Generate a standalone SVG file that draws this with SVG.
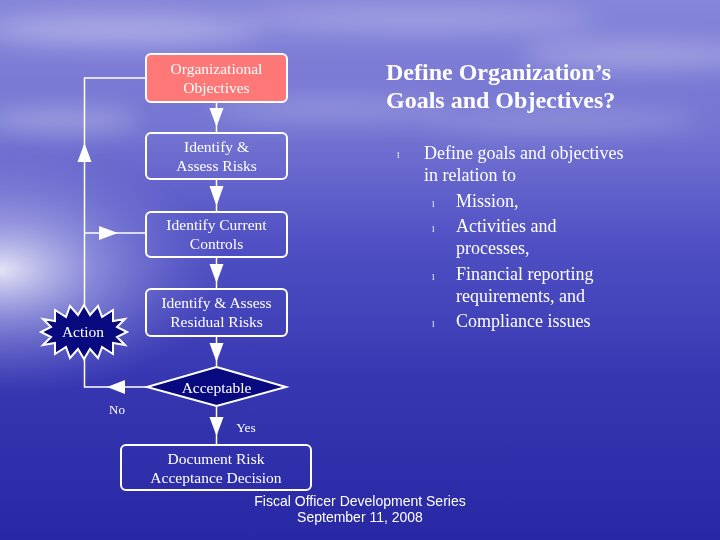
<svg xmlns="http://www.w3.org/2000/svg" width="720" height="540" viewBox="0 0 720 540">
<defs>
<linearGradient id="sky" x1="0" y1="0" x2="0" y2="1">
<stop offset="0" stop-color="#8585da"/>
<stop offset="0.25" stop-color="#7373d2"/>
<stop offset="0.45" stop-color="#5050c4"/>
<stop offset="0.7" stop-color="#3737b2"/>
<stop offset="1" stop-color="#2828a4"/>
</linearGradient>
<radialGradient id="glow" cx="0" cy="270" r="230" gradientUnits="userSpaceOnUse" gradientTransform="translate(0 270) scale(1 0.55) translate(0 -270)">
<stop offset="0" stop-color="#ffffff" stop-opacity="0.85"/>
<stop offset="0.4" stop-color="#d8d8f8" stop-opacity="0.45"/>
<stop offset="1" stop-color="#9090e0" stop-opacity="0"/>
</radialGradient>
<filter id="blur" x="-20%" y="-50%" width="140%" height="200%"><feGaussianBlur stdDeviation="12"/></filter>
<style>
.box{fill:none;stroke:#fff;stroke-width:2}
.pink{fill:#ff7878;stroke:#fff;stroke-width:2}
.dk{fill:#0a0a80;stroke:#fff;stroke-width:2}
.ln{stroke:#fff;stroke-width:1.5;fill:none}
.ah{fill:#fff}
.t{font-family:"Liberation Serif","Times New Roman",serif;font-size:15.5px;fill:#fff;text-anchor:middle}
.b{font-family:"Liberation Serif","Times New Roman",serif;font-size:18px;fill:#fff}
.bu{font-family:"Liberation Serif","Times New Roman",serif;font-size:9px;fill:#fff}
.h{font-family:"Liberation Serif","Times New Roman",serif;font-size:24px;font-weight:bold;fill:#fff}
.f{font-family:"Liberation Sans",Arial,sans-serif;font-size:14px;fill:#fff;text-anchor:middle}
</style>
</defs>
<g id="background">
<rect width="720" height="540" fill="url(#sky)"/>
<g filter="url(#blur)" fill="#ffffff">
<ellipse cx="120" cy="30" rx="140" ry="14" opacity="0.35"/>
<ellipse cx="420" cy="20" rx="180" ry="10" opacity="0.3"/>
<ellipse cx="640" cy="55" rx="120" ry="12" opacity="0.3"/>
<ellipse cx="330" cy="110" rx="120" ry="10" opacity="0.25"/>
<ellipse cx="560" cy="120" rx="140" ry="9" opacity="0.25"/>
<ellipse cx="60" cy="120" rx="80" ry="12" opacity="0.3"/>
</g>
<rect width="720" height="540" fill="url(#glow)"/>
</g>
<g id="connectors">
<line class="ln" x1="216.5" y1="102" x2="216.5" y2="133"/>
<polygon class="ah" points="209.5,108 223.5,108 216.5,127"/>
<line class="ln" x1="216.5" y1="179" x2="216.5" y2="212"/>
<polygon class="ah" points="209.5,186 223.5,186 216.5,206"/>
<line class="ln" x1="216.5" y1="257" x2="216.5" y2="289"/>
<polygon class="ah" points="209.5,264 223.5,264 216.5,283"/>
<line class="ln" x1="216.5" y1="336" x2="216.5" y2="367"/>
<polygon class="ah" points="209.5,343 223.5,343 216.5,362"/>
<line class="ln" x1="216.5" y1="406" x2="216.5" y2="445"/>
<polygon class="ah" points="209.5,417 223.5,417 216.5,436"/>
<polyline class="ln" points="147,387 84.5,387 84.5,78 146,78"/>
<polygon class="ah" points="107,387 125,380 125,394"/>
<polygon class="ah" points="84.5,143 77.5,162 91.5,162"/>
<line class="ln" x1="84.5" y1="233" x2="146" y2="233"/>
<polygon class="ah" points="118,233 99,226 99,240"/>
</g>
<g id="n-objectives">
<rect class="pink" x="146" y="54" width="141" height="48" rx="5"/>
<text class="t" x="216.5" y="74">Organizational</text>
<text class="t" x="216.5" y="93">Objectives</text>
</g>
<g id="n-assess">
<rect class="box" x="146" y="133" width="141" height="46" rx="5"/>
<text class="t" x="216.5" y="152">Identify &amp;</text>
<text class="t" x="216.5" y="171">Assess Risks</text>
</g>
<g id="n-controls">
<rect class="box" x="146" y="212" width="141" height="45" rx="5"/>
<text class="t" x="216.5" y="230">Identify Current</text>
<text class="t" x="216.5" y="249">Controls</text>
</g>
<g id="n-residual">
<rect class="box" x="146" y="289" width="141" height="47" rx="5"/>
<text class="t" x="216.5" y="308">Identify &amp; Assess</text>
<text class="t" x="216.5" y="327">Residual Risks</text>
</g>
<g id="n-acceptable">
<polygon class="dk" points="216.5,367 286,387 216.5,406 147,387"/>
<text class="t" x="216.5" y="392.5">Acceptable</text>
</g>
<g id="n-action">
<polygon class="dk" points="84,305 90,315 98,306 102,317 113,310 113,321 125,319 117,327 127,332 117,337 125,345 113,343 113,354 102,347 98,358 90,349 84,359 78,349 70,358 66,347 55,354 55,343 43,345 51,337 41,332 51,327 43,319 55,321 55,310 66,317 70,306 78,315"/>
<text class="t" x="83" y="337">Action</text>
</g>
<g id="n-document">
<rect class="box" x="121" y="445" width="190" height="45" rx="5"/>
<text class="t" x="216" y="464">Document Risk</text>
<text class="t" x="216" y="483">Acceptance Decision</text>
</g>
<g id="labels">
<text class="t" x="117" y="414" style="font-size:13px">No</text>
<text class="t" x="246" y="432" style="font-size:13.5px">Yes</text>
</g>
<g id="text-panel">
<text class="h" x="386" y="80">Define Organization’s</text>
<text class="h" x="386" y="108">Goals and Objectives?</text>
<text class="bu" x="397" y="158">l</text>
<text class="b" x="424" y="159">Define goals and objectives</text>
<text class="b" x="424" y="181">in relation to</text>
<text class="bu" x="432" y="207">l</text>
<text class="b" x="456" y="207">Mission,</text>
<text class="bu" x="432" y="232">l</text>
<text class="b" x="456" y="232">Activities and</text>
<text class="b" x="456" y="254">processes,</text>
<text class="bu" x="432" y="280">l</text>
<text class="b" x="456" y="280">Financial reporting</text>
<text class="b" x="456" y="302">requirements, and</text>
<text class="bu" x="432" y="327">l</text>
<text class="b" x="456" y="327">Compliance issues</text>
</g>
<g id="footer">
<text class="f" x="360" y="506">Fiscal Officer Development Series</text>
<text class="f" x="360" y="522">September 11, 2008</text>
</g>
</svg>
